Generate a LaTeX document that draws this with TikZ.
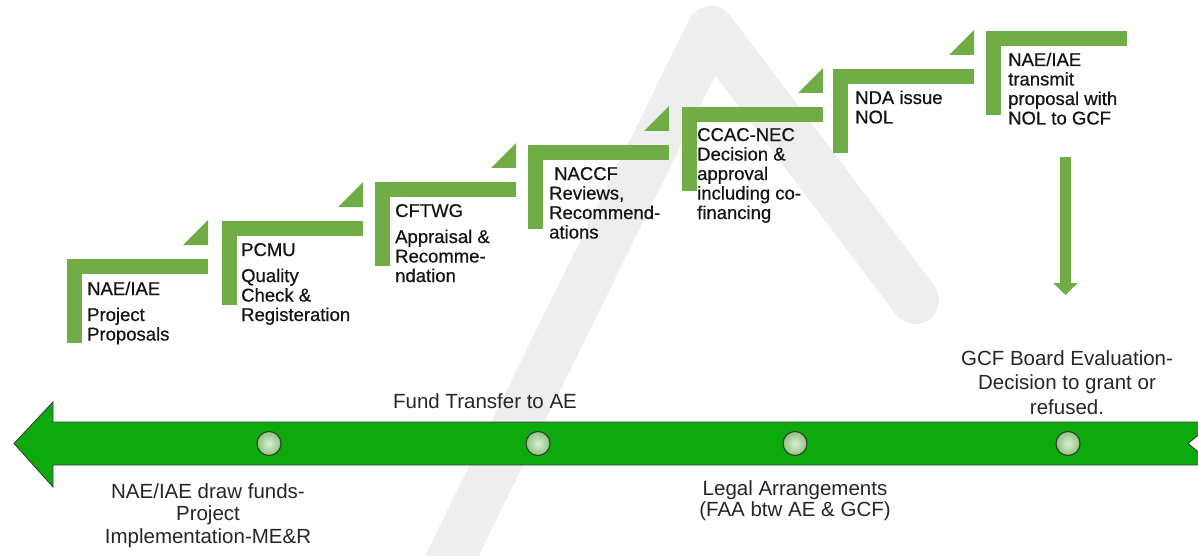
\documentclass[tikz,border=0pt]{standalone}
\usepackage{fontspec}
\setmainfont{Liberation Sans}
\newfontfamily\stepfont[FakeBold=0.6]{Liberation Sans}
\usetikzlibrary{arrows.meta}
\definecolor{stepgreen}{RGB}{112,173,71}
\definecolor{bandgreen}{RGB}{12,170,12}
\definecolor{dotout}{RGB}{55,55,55}
\definecolor{dotin}{RGB}{220,238,212}
\definecolor{dotedge}{RGB}{140,196,128}
\definecolor{wmark}{RGB}{238,238,238}
\begin{document}
\begin{tikzpicture}[x=1pt,y=-1pt,
  bar/.style={fill=stepgreen, draw=none},
  steptext/.style={anchor=base west, inner sep=0pt, align=left,
    font=\stepfont\fontsize{18.5}{19.5}\selectfont, text=black!92},
  tllabel/.style={inner sep=0pt, align=center, anchor=base,
    font=\fontsize{20.5}{21}\selectfont, text=black!85},
  dot/.style={circle, minimum size=24pt, inner sep=0pt, draw=dotout,
    line width=1.1pt, inner color=dotin, outer color=dotedge},
  wm/.style={draw=wmark, line width=48pt, line cap=round, line join=round}
]
\useasboundingbox (0,0) rectangle (1198,556);

% faint watermark strokes
\begin{scope}
\clip (0,0) rectangle (1198,556);
\draw[wm] (430,600) -- (711,30) -- (915,300);
\end{scope}

% steps (L shapes) and connecting triangles
\foreach \x/\t in {67/259, 222/221, 375/182, 528/145, 682/107, 833/69, 986/31} {
  \fill[bar] (\x,\t) rectangle ++(141,15);
  \fill[bar] (\x,\t) rectangle ++(15,84);
}
\foreach \x/\t in {67/259, 222/221, 375/182, 528/145, 682/107, 833/69} {
  \fill[bar] (\x+141,\t-14) -- ++(0,-25) -- ++(-25,25) -- cycle;
}

% step texts (anchor = baseline of the last line)
\node[steptext] (s1) at (87,340.5) {NAE/IAE\\[6.5pt]Project\\Proposals};
\node[steptext] (s2) at (241,321) {PCMU\\[6.5pt]Quality\\Check \&\\Registeration};
\node[steptext] (s3) at (395,282) {CFTWG\\[6.5pt]Appraisal \&\\Recomme-\\ndation};
\node[steptext] (s4) at (549,238.5) {\hspace*{5pt}NACCF\\Reviews,\\Recommend-\\ations};
\node[steptext] (s5) at (697,219) {CCAC-NEC\\Decision \&\\approval\\including co-\\financing};
\node[steptext] (s6) at (855,123.5) {NDA issue\\NOL};
\node[steptext] (s7) at (1008,124.5) {NAE/IAE\\transmit\\proposal with\\NOL to GCF};

% vertical arrow
\coordinate (atop) at (1065.5,157);
\coordinate (abot) at (1065.5,295);
\draw[stepgreen, line width=11pt, -{Triangle[width=24pt,length=12pt]}] (atop) -- (abot);

% timeline band
\filldraw[fill=bandgreen, draw=black!75, line width=0.9pt]
  (14,443.5) -- (53,402) -- (53,422) -- (1202,422) -- (1202,432) -- (1188,443.5)
  -- (1202,455) -- (1202,465) -- (53,465) -- (53,487) -- cycle;

% milestones
\node[dot] (c1) at (269,443.5) {};
\node[dot] (c2) at (538,443.5) {};
\node[dot] (c3) at (795,443.5) {};
\node[dot] (c4) at (1068,443.5) {};

% timeline labels (anchor = baseline of the last line)
\node[tllabel] (fund) at (485,408) {Fund Transfer to AE};
\node[tllabel, font=\fontsize{20.5}{24.5}\selectfont] (gcf) at (1067,414) {GCF Board Evaluation-\\Decision to grant or\\refused.};
\node[tllabel] (legal) at (795,516) {Legal Arrangements\\(FAA btw AE \& GCF)};
\node[tllabel, font=\fontsize{20.5}{22.5}\selectfont] (draw) at (208,543) {NAE/IAE draw funds-\\Project\\Implementation-ME\&R};
\end{tikzpicture}
\end{document}
